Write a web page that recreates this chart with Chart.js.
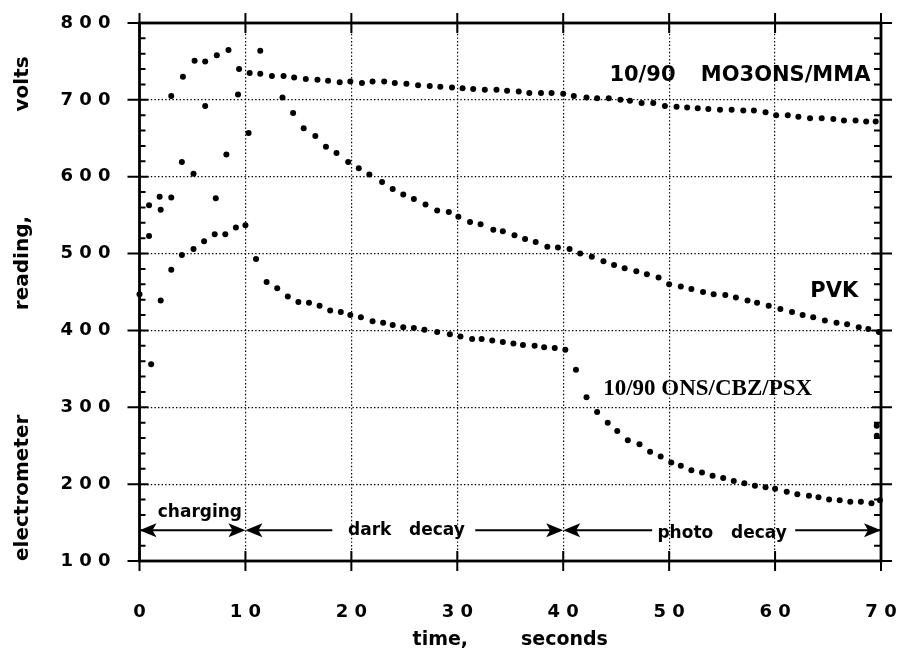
<!DOCTYPE html>
<html>
<head>
<meta charset="utf-8">
<script src="https://cdn.jsdelivr.net/npm/chart.js@4.4.0/dist/chart.umd.min.js"></script>
<style>
  html, body { margin: 0; padding: 0; background: #fff; }
  #wrap { width: 904px; height: 663px; }
</style>
</head>
<body>
<div id="wrap"><canvas id="chart"></canvas></div>
<script>
// time (s) and electrometer reading (V)
const mmaTime = [0.9, 1.9, 3.0, 4.1, 5.2, 6.2, 7.3, 8.4, 9.4, 10.4, 11.4, 12.5, 13.6, 14.6, 15.7, 16.8, 17.8, 18.9, 19.9, 21.0,
  22.0, 23.1, 24.1, 25.2, 26.3, 27.4, 28.4, 29.5, 30.5, 31.5, 32.6, 33.7, 34.7, 35.8, 36.8, 37.9, 38.9, 40.0, 41.0, 42.2,
  43.2, 44.3, 45.4, 46.3, 47.4, 48.5, 49.6, 50.7, 51.7, 52.7, 53.7, 54.8, 55.9, 57.0, 58.0, 59.1, 60.1, 61.2, 62.2, 63.3,
  64.4, 65.5, 66.5, 67.6, 68.6, 69.5];
const mmaVolts = [563, 574, 705, 730, 751, 750, 758, 765, 740, 735, 734, 731, 731, 729, 727, 726, 725, 723, 724, 722,
  724, 724, 722, 721, 719, 718, 717, 716, 715, 714, 713, 713, 712, 711, 709, 709, 709, 708, 705, 703,
  702, 702, 700, 699, 696, 696, 692, 691, 690, 689, 688, 687, 687, 686, 686, 684, 680, 680, 678, 676,
  676, 675, 673, 673, 672, 672];

const pvkTime = [0, 0.9, 2.0, 3.0, 4.0, 5.1, 6.2, 7.2, 8.2, 9.3, 10.3, 11.4, 13.5, 14.5, 15.5, 16.6, 17.6, 18.6, 19.7, 20.7,
  21.7, 22.9, 23.9, 24.9, 25.9, 27.0, 28.1, 29.2, 30.1, 31.2, 32.2, 33.4, 34.3, 35.4, 36.4, 37.4, 38.5, 39.5, 40.6, 41.6,
  42.7, 43.8, 44.8, 45.8, 46.9, 47.9, 49.0, 50.0, 51.1, 52.1, 53.2, 54.2, 55.3, 56.3, 57.4, 58.3, 59.4, 60.5, 61.6, 62.6,
  63.6, 64.7, 65.8, 66.8, 67.9, 68.8, 69.8];
const pvkVolts = [447, 523, 557, 573, 619, 604, 692, 572, 629, 707, 657, 764, 703, 683, 663, 653, 639, 631, 619, 611,
  603, 593, 584, 577, 571, 564, 556, 554, 548, 541, 538, 531, 529, 524, 519, 515, 509, 508, 506, 500,
  496, 490, 485, 481, 477, 473, 469, 460, 457, 454, 450, 447, 446, 443, 439, 436, 432, 428, 424, 420,
  417, 413, 410, 408, 404, 402, 398];

const cbzTime = [1.1, 2.0, 3.0, 4.0, 5.1, 6.1, 7.1, 8.1, 9.1, 10.0, 11.0, 12.0, 13.0, 14.0, 15.0, 16.0, 17.0, 18.0, 19.0, 19.9,
  20.9, 22.0, 23.0, 23.9, 24.9, 25.9, 26.9, 28.1, 29.3, 30.3, 31.4, 32.3, 33.3, 34.3, 35.3, 36.2, 37.3, 38.2, 39.2, 40.2,
  41.2, 42.2, 43.2, 44.2, 45.1, 46.1, 47.2, 48.2, 49.2, 50.2, 51.1, 52.1, 53.1, 54.1, 55.1, 56.1, 57.1, 58.1, 59.1, 60.0,
  61.1, 62.1, 63.2, 64.1, 65.1, 66.1, 67.1, 68.1, 69.1, 69.9, 69.6, 69.6];
const cbzVolts = [356, 439, 479, 498, 506, 516, 525, 525, 534, 537, 493, 463, 455, 444, 437, 436, 432, 426, 424, 420,
  417, 412, 410, 407, 404, 403, 401, 398, 395, 392, 389, 389, 387, 385, 383, 381, 380, 378, 377, 375,
  349, 313, 294, 280, 269, 257, 252, 242, 236, 228, 224, 218, 215, 211, 208, 204, 201, 198, 196, 194,
  190, 187, 185, 183, 180, 179, 177, 177, 175, 179, 276, 263];

const xTicks = [0, 10, 20, 30, 40, 50, 60, 70];
const yTicks = [100, 200, 300, 400, 500, 600, 700, 800];
const yMinorTicks = [120, 140, 160, 180, 220, 240, 260, 280, 320, 340, 360, 380, 420, 440, 460, 480,
  520, 540, 560, 580, 620, 640, 660, 680, 720, 740, 760, 780];

// phase arrows along the bottom: [from, to] in seconds
const phaseNames = ['charging', 'dark   decay', 'photo   decay'];
const phaseSpans = [[0, 10], [10, 40], [40, 70]];

const toPoints = (ts, vs) => ts.map((t, i) => ({x: t, y: vs[i]}));

const boldSans = 'DejaVu Sans';

const decorations = {
  id: 'decorations',
  beforeDatasetsDraw(chart) {
    const {ctx, chartArea: a, scales: {x, y}} = chart;
    ctx.save();
    ctx.strokeStyle = '#000';
    ctx.lineWidth = 2.8;
    ctx.strokeRect(a.left, a.top, a.right - a.left, a.bottom - a.top);
    ctx.lineWidth = 2;
    ctx.beginPath();
    xTicks.forEach(v => {
      const px = x.getPixelForValue(v);
      ctx.moveTo(px, a.top - 10); ctx.lineTo(px, a.top + 10);
      ctx.moveTo(px, a.bottom - 10); ctx.lineTo(px, a.bottom + 10);
    });
    yTicks.forEach(v => {
      const py = y.getPixelForValue(v);
      ctx.moveTo(a.left - 12, py); ctx.lineTo(a.left + 9, py);
      ctx.moveTo(a.right - 9, py); ctx.lineTo(a.right + 11, py);
    });
    yMinorTicks.forEach(v => {
      const py = y.getPixelForValue(v);
      ctx.moveTo(a.left, py); ctx.lineTo(a.left + 6, py);
      ctx.moveTo(a.right - 7, py); ctx.lineTo(a.right, py);
    });
    ctx.stroke();
    ctx.restore();
  },
  afterDatasetsDraw(chart) {
    const {ctx, scales: {x, y}} = chart;
    const X = v => x.getPixelForValue(v);
    const Y = v => y.getPixelForValue(v);
    ctx.save();
    ctx.fillStyle = '#000';
    ctx.strokeStyle = '#000';
    ctx.lineWidth = 2.2;

    const head = (tip, yy, dir) => {
      ctx.beginPath();
      ctx.moveTo(tip, yy);
      ctx.lineTo(tip - dir * 17, yy - 7);
      ctx.lineTo(tip - dir * 13, yy);
      ctx.lineTo(tip - dir * 17, yy + 7);
      ctx.closePath();
      ctx.fill();
    };
    const line = (x1, x2, yy) => {
      ctx.beginPath(); ctx.moveTo(x1, yy); ctx.lineTo(x2, yy); ctx.stroke();
    };

    const ay = Y(140);
    ctx.font = 'bold 17px "' + boldSans + '"';
    ctx.textBaseline = 'middle';
    ctx.textAlign = 'center';

    // charging: label above, full arrow
    let s = phaseSpans[0];
    line(X(s[0]) + 6, X(s[1]) - 6, ay);
    head(X(s[0]), ay, -1); head(X(s[1]), ay, 1);
    ctx.fillText(phaseNames[0], X(5.7), Y(163));

    // dark decay: label sits in the arrow
    s = phaseSpans[1];
    line(X(s[0]) + 6, X(18.2), ay);
    line(X(31.7), X(s[1]) - 6, ay);
    head(X(s[0]), ay, -1); head(X(s[1]), ay, 1);
    ctx.fillText(phaseNames[1], X(25.2), Y(140));

    // photo decay
    s = phaseSpans[2];
    line(X(s[0]) + 6, X(48.4), ay);
    line(X(61.9), X(s[1]) - 6, ay);
    head(X(s[0]), ay, -1); head(X(s[1]), ay, 1);
    ctx.fillText(phaseNames[2], X(55.0), Y(136));

    // sample names
    ctx.textAlign = 'right';
    ctx.font = 'bold 21px "' + boldSans + '"';
    ctx.fillText('10/90', X(50.6), Y(732));
    ctx.fillText('MO3ONS/MMA', X(69.0), Y(732));
    ctx.fillText('PVK', X(67.85), Y(450));
    ctx.font = 'bold 23px "Liberation Serif"';
    ctx.fillText('10/90 ONS/CBZ/PSX', X(63.5), Y(324));
    ctx.restore();
  }
};

const dotStyle = {
  backgroundColor: '#000',
  borderWidth: 0,
  pointRadius: 3,
  pointHoverRadius: 3,
  showLine: false,
  clip: false
};

const tickFont = {family: boldSans, size: 18, weight: 'bold'};
const spaced = v => String(v).split('').join(' ');

new Chart(document.getElementById('chart'), {
  type: 'scatter',
  data: {
    datasets: [
      Object.assign({label: '10/90 MO3ONS/MMA', data: toPoints(mmaTime, mmaVolts)}, dotStyle),
      Object.assign({label: 'PVK', data: toPoints(pvkTime, pvkVolts)}, dotStyle),
      Object.assign({label: '10/90 ONS/CBZ/PSX', data: toPoints(cbzTime, cbzVolts)}, dotStyle)
    ]
  },
  options: {
    responsive: true,
    maintainAspectRatio: false,
    animation: false,
    layout: {padding: {top: 23, right: 23, left: 0, bottom: 0}},
    plugins: {legend: {display: false}, tooltip: {enabled: false}},
    scales: {
      x: {
        type: 'linear', min: 0, max: 70,
        afterFit: s => { s.height = 102; s.paddingLeft = 0; s.paddingRight = 0; },
        ticks: {stepSize: 10, color: '#000', font: tickFont, padding: 41, callback: spaced},
        grid: {color: '#000', lineWidth: 1.2, drawTicks: false},
        border: {display: false, dash: [1.4, 2.2]},
        title: {display: true, text: 'time,        seconds', color: '#000',
          font: {family: boldSans, size: 19, weight: 'bold'}, padding: {top: 0, bottom: 12}}
      },
      y: {
        type: 'linear', min: 100, max: 800,
        afterFit: s => { s.width = 139.5; s.paddingTop = 0; s.paddingBottom = 0; },
        ticks: {stepSize: 100, color: '#000', font: tickFont, padding: 29, callback: spaced},
        grid: {color: '#000', lineWidth: 1.2, drawTicks: false},
        border: {display: false, dash: [1.4, 2.2]},
        title: {display: true, align: 'start',
          text: 'electrometer               reading,               volts', color: '#000',
          font: {family: boldSans, size: 20, weight: 'bold'}, padding: {top: 11, bottom: 0}}
      }
    }
  },
  plugins: [decorations]
});
</script>
</body>
</html>
